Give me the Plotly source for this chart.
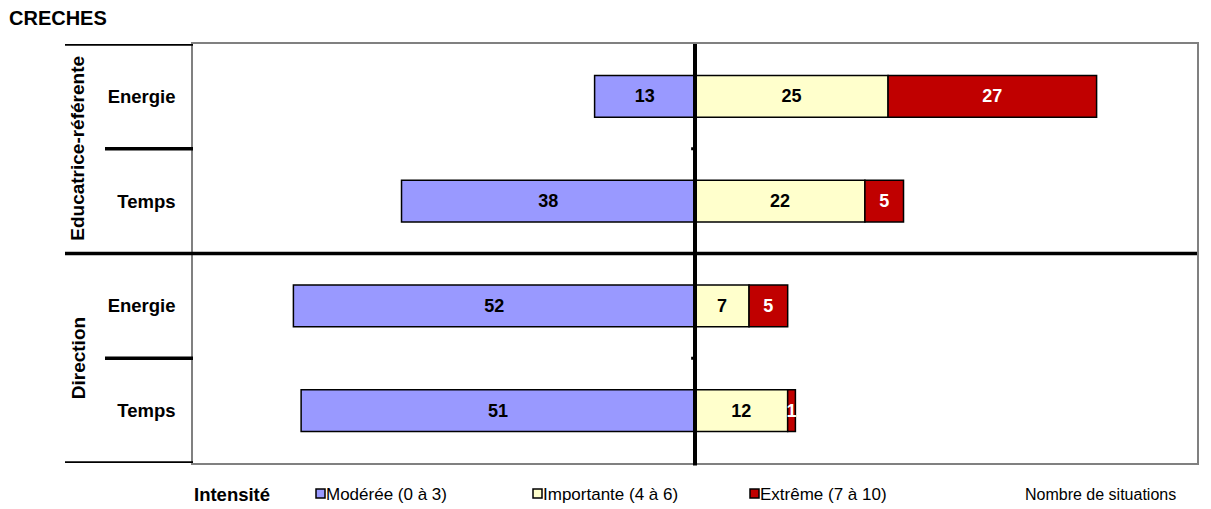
import plotly.graph_objects as go

# ---------------- data ----------------
categories = ["Energie", "Temps", "Energie", "Temps"]          # top to bottom
groups = ["Educatrice-référente", "Direction"]
moderee = [13, 38, 52, 51]
importante = [25, 22, 7, 12]
extreme = [27, 5, 5, 1]
series_names = ["Modérée (0 à 3)", "Importante (4 à 6)", "Extrême (7 à 10)"]
series_colors = ["#9999FF", "#FFFFCC", "#C00000"]
text_colors = ["black", "black", "white"]
x_range = [-65, 65]

# ---------------- geometry (page pixels; page body has an 8px margin) ----------------
OFF = 8
PAGE_W, PAGE_H = 1211, 509
W, H = PAGE_W - OFF, PAGE_H - OFF
L, R, T, B = 193, 1197, 44, 463      # plot area in page pixels


def px_x(p):
    return (p - L) / (R - L)


def px_y(p):
    return (B - p) / (B - T)


FONT = "Liberation Sans, Arial, sans-serif"
n = len(categories)
ypos = list(range(n - 1, -1, -1))  # 3,2,1,0

fig = go.Figure()
vals = [[-v for v in moderee], importante, extreme]
texts = [moderee, importante, extreme]
for name, xv, tv, col, tc in zip(series_names, vals, texts, series_colors, text_colors):
    fig.add_trace(go.Bar(
        y=ypos, x=xv, orientation="h", name=name,
        width=0.4,
        marker=dict(color=col, line=dict(color="black", width=1.5)),
        text=[str(t) for t in tv], textposition="inside", insidetextanchor="middle",
        constraintext="none",
        textfont=dict(family=FONT, size=18, color=tc, weight="bold"),
        showlegend=False, hoverinfo="skip",
    ))

shapes = []
thick = dict(color="black", width=3.5)
for yb, x0 in [(n - 0.5, 65), (n - 1.5, 105), (n - 3.5, 105), (-0.5, 65)]:
    shapes.append(dict(type="line", xref="paper", yref="y", x0=px_x(x0), x1=0,
                       y0=yb, y1=yb, line=thick, layer="above"))
shapes.append(dict(type="line", xref="paper", yref="y", x0=px_x(65), x1=1,
                   y0=n - 2.5, y1=n - 2.5, line=thick, layer="above"))
shapes.append(dict(type="line", xref="x", yref="paper", x0=0, x1=0, y0=-0.006, y1=1,
                   line=dict(color="black", width=4), layer="above"))
for yb in [n - 1.5, n - 3.5]:
    shapes.append(dict(type="line", xref="x", yref="y", x0=-0.5, x1=0, y0=yb, y1=yb,
                       line=dict(color="black", width=3), layer="above"))

sw_x = [315, 532, 749]
for xs, col in zip(sw_x, series_colors):
    shapes.append(dict(type="rect", xref="paper", yref="paper",
                       x0=px_x(xs + 1), x1=px_x(xs + 10), y0=px_y(489), y1=px_y(498),
                       fillcolor=col, line=dict(color="black", width=1.5)))

annotations = []
for g, yc in zip(groups, [n - 1.5, n - 3.5]):
    annotations.append(dict(text=g, xref="paper", yref="y", x=px_x(78), y=yc,
                            xanchor="center", yanchor="middle",
                            textangle=-90, showarrow=False,
                            font=dict(family=FONT, size=19, color="black", weight="bold")))
annotations.append(dict(text="Intensité", xref="paper", yref="paper", x=px_x(192), y=px_y(494),
                        xanchor="left", yanchor="middle", showarrow=False,
                        font=dict(family=FONT, size=18.5, color="black", weight="bold")))
for xs, name in zip(sw_x, series_names):
    annotations.append(dict(text=name, xref="paper", yref="paper", x=px_x(xs + 9), y=px_y(494),
                            xanchor="left", yanchor="middle", showarrow=False,
                            font=dict(family=FONT, size=17, color="black")))
annotations.append(dict(text="Nombre de situations", xref="paper", yref="paper",
                        x=px_x(1178), y=px_y(494), xanchor="right", yanchor="middle",
                        showarrow=False, font=dict(family=FONT, size=16, color="black")))

fig.update_layout(
    width=W, height=H,
    margin=dict(l=L - OFF, r=W - (R - OFF), t=T - OFF, b=H - (B - OFF), autoexpand=False),
    paper_bgcolor="white", plot_bgcolor="white",
    barmode="relative",
    title=dict(text="CRECHES", xref="container", yref="container",
               x=(9 - OFF) / W, y=1 - 3 / H,
               xanchor="left", yanchor="top", pad=dict(t=0, b=0, l=0, r=0),
               font=dict(family=FONT, size=20, color="black", weight="bold")),
    xaxis=dict(range=x_range, showgrid=False, zeroline=False, showticklabels=False,
               ticks="", showline=True, linecolor="#808080", linewidth=1.5, mirror=True),
    yaxis=dict(range=[-0.5, n - 0.5], tickvals=ypos, ticktext=categories,
               showgrid=False, zeroline=False, ticks="", ticklabelstandoff=12,
               showline=True, linecolor="#808080", linewidth=1.5, mirror=True,
               tickfont=dict(family=FONT, size=18.5, color="black", weight="bold")),
    shapes=shapes, annotations=annotations,
)

fig.write_html("out.html")
